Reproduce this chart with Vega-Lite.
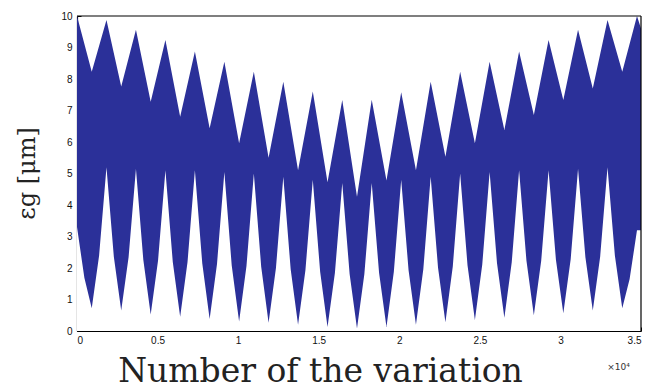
{
  "$schema": "https://vega.github.io/schema/vega-lite/v6.json",
  "width": 564,
  "height": 315,
  "autosize": {"type": "none"},
  "padding": {"left": 77, "top": 16, "right": 13, "bottom": 58},
  "background": "white",
  "config": {
    "view": {"stroke": null},
    "axis": {
      "domainColor": "black",
      "domainWidth": 1.2,
      "tickColor": "black",
      "labelFont": "Liberation Sans",
      "labelFontSize": 10,
      "labelColor": "#111111",
      "grid": false,
      "zindex": 1
    }
  },
  "datasets": {
    "upper": [
      {"n": 0, "eps": 10}, {"n": 915, "eps": 8.23}, {"n": 1829, "eps": 9.87}, {"n": 2744, "eps": 7.76},
      {"n": 3658, "eps": 9.56}, {"n": 4573, "eps": 7.28}, {"n": 5487, "eps": 9.24}, {"n": 6402, "eps": 6.8},
      {"n": 7316, "eps": 8.87}, {"n": 8231, "eps": 6.44}, {"n": 9145, "eps": 8.55}, {"n": 10060, "eps": 5.96},
      {"n": 10974, "eps": 8.23}, {"n": 11889, "eps": 5.5}, {"n": 12803, "eps": 7.91}, {"n": 13718, "eps": 5.1},
      {"n": 14632, "eps": 7.6}, {"n": 15547, "eps": 4.72}, {"n": 16461, "eps": 7.33}, {"n": 17376, "eps": 4.26},
      {"n": 18290, "eps": 7.34}, {"n": 19205, "eps": 4.78}, {"n": 20119, "eps": 7.58}, {"n": 21034, "eps": 5.1},
      {"n": 21948, "eps": 7.91}, {"n": 22863, "eps": 5.53}, {"n": 23777, "eps": 8.23}, {"n": 24692, "eps": 5.96},
      {"n": 25606, "eps": 8.55}, {"n": 26521, "eps": 6.38}, {"n": 27435, "eps": 8.87}, {"n": 28350, "eps": 6.86},
      {"n": 29264, "eps": 9.24}, {"n": 30179, "eps": 7.33}, {"n": 31093, "eps": 9.56}, {"n": 32008, "eps": 7.7},
      {"n": 32922, "eps": 9.87}, {"n": 33837, "eps": 8.23}, {"n": 34751, "eps": 10}, {"n": 35000, "eps": 9.6}
    ],
    "lower": [
      {"n": 0, "eps": 3.3},
      {"n": 457, "eps": 1.69}, {"n": 915, "eps": 0.72}, {"n": 1372, "eps": 2.4}, {"n": 1829, "eps": 5.2},
      {"n": 2286, "eps": 2.36}, {"n": 2744, "eps": 0.65}, {"n": 3201, "eps": 2.34}, {"n": 3658, "eps": 5.15},
      {"n": 4115, "eps": 2.26}, {"n": 4573, "eps": 0.52}, {"n": 5030, "eps": 2.24}, {"n": 5487, "eps": 5.1},
      {"n": 5944, "eps": 2.19}, {"n": 6402, "eps": 0.45}, {"n": 6859, "eps": 2.19}, {"n": 7316, "eps": 5.1},
      {"n": 7773, "eps": 2.15}, {"n": 8231, "eps": 0.38}, {"n": 8688, "eps": 2.13}, {"n": 9145, "eps": 5.05},
      {"n": 9602, "eps": 2.08}, {"n": 10060, "eps": 0.3}, {"n": 10517, "eps": 2.06}, {"n": 10974, "eps": 5.0},
      {"n": 11431, "eps": 2.04}, {"n": 11889, "eps": 0.26}, {"n": 12346, "eps": 2.0}, {"n": 12803, "eps": 4.9},
      {"n": 13260, "eps": 1.96}, {"n": 13718, "eps": 0.2}, {"n": 14175, "eps": 1.93}, {"n": 14632, "eps": 4.8},
      {"n": 15089, "eps": 1.88}, {"n": 15547, "eps": 0.13}, {"n": 16004, "eps": 1.84}, {"n": 16461, "eps": 4.7},
      {"n": 16918, "eps": 1.81}, {"n": 17376, "eps": 0.08}, {"n": 17833, "eps": 1.81}, {"n": 18290, "eps": 4.7},
      {"n": 18747, "eps": 1.84}, {"n": 19205, "eps": 0.13}, {"n": 19662, "eps": 1.88}, {"n": 20119, "eps": 4.8},
      {"n": 20576, "eps": 1.93}, {"n": 21034, "eps": 0.2}, {"n": 21491, "eps": 1.96}, {"n": 21948, "eps": 4.9},
      {"n": 22405, "eps": 2.01}, {"n": 22863, "eps": 0.28}, {"n": 23320, "eps": 2.05}, {"n": 23777, "eps": 5.0},
      {"n": 24234, "eps": 2.09}, {"n": 24692, "eps": 0.35}, {"n": 25149, "eps": 2.11}, {"n": 25606, "eps": 5.05},
      {"n": 26063, "eps": 2.16}, {"n": 26521, "eps": 0.42}, {"n": 26978, "eps": 2.18}, {"n": 27435, "eps": 5.1},
      {"n": 27892, "eps": 2.23}, {"n": 28350, "eps": 0.5}, {"n": 28807, "eps": 2.23}, {"n": 29264, "eps": 5.1},
      {"n": 29721, "eps": 2.26}, {"n": 30179, "eps": 0.56}, {"n": 30636, "eps": 2.28}, {"n": 31093, "eps": 5.15},
      {"n": 31550, "eps": 2.34}, {"n": 32008, "eps": 0.65}, {"n": 32465, "eps": 2.36}, {"n": 32922, "eps": 5.2},
      {"n": 33379, "eps": 2.4}, {"n": 33837, "eps": 0.72}, {"n": 34294, "eps": 1.65}, {"n": 34751, "eps": 3.2},
      {"n": 35000, "eps": 3.2}
    ]
  },
  "layer": [
    {
      "data": {"name": "upper"},
      "mark": {"type": "area", "color": "#2b3099", "interpolate": "linear"},
      "encoding": {
        "x": {
          "field": "n", "type": "quantitative",
          "scale": {"domain": [0, 35000], "nice": false, "zero": false},
          "axis": {
            "orient": "bottom",
            "values": [0, 5000, 10000, 15000, 20000, 25000, 30000, 35000],
            "labelExpr": "datum.value / 10000",
            "tickSize": -4,
            "labelPadding": 8,
            "title": "Number of the variation",
            "titleFont": "DejaVu Serif",
            "titleFontSize": 33,
            "titleFontWeight": "normal",
            "titleColor": "#222222",
            "titleX": 243,
            "titleY": 50,
            "titleAlign": "center",
            "titleBaseline": "alphabetic"
          }
        },
        "y": {
          "field": "eps", "type": "quantitative",
          "scale": {"domain": [0, 10], "nice": false, "zero": false},
          "axis": {
            "orient": "left",
            "values": [0, 1, 2, 3, 4, 5, 6, 7, 8, 9, 10],
            "tickSize": -4,
            "labelPadding": 9,
            "title": "εg [μm]",
            "titleFont": "DejaVu Serif",
            "titleFontSize": 24,
            "titleFontWeight": "normal",
            "titleColor": "#222222",
            "titleAngle": 270,
            "titleX": -50,
            "titleY": 157,
            "titleAlign": "center",
            "titleBaseline": "middle"
          }
        }
      }
    },
    {
      "data": {"name": "lower"},
      "mark": {"type": "area", "color": "white", "interpolate": "linear"},
      "encoding": {
        "x": {
          "field": "n", "type": "quantitative",
          "scale": {"domain": [0, 35000], "nice": false, "zero": false},
          "axis": {
            "orient": "bottom",
            "values": [0, 5000, 10000, 15000, 20000, 25000, 30000, 35000],
            "labelExpr": "datum.value / 10000",
            "tickSize": -4,
            "labelPadding": 8,
            "title": "Number of the variation",
            "titleFont": "DejaVu Serif",
            "titleFontSize": 33,
            "titleFontWeight": "normal",
            "titleColor": "#222222",
            "titleX": 243,
            "titleY": 50,
            "titleAlign": "center",
            "titleBaseline": "alphabetic"
          }
        },
        "y": {
          "field": "eps", "type": "quantitative",
          "scale": {"domain": [0, 10], "nice": false, "zero": false},
          "axis": {
            "orient": "left",
            "values": [0, 1, 2, 3, 4, 5, 6, 7, 8, 9, 10],
            "tickSize": -4,
            "labelPadding": 9,
            "title": "εg [μm]",
            "titleFont": "DejaVu Serif",
            "titleFontSize": 24,
            "titleFontWeight": "normal",
            "titleColor": "#222222",
            "titleAngle": 270,
            "titleX": -50,
            "titleY": 157,
            "titleAlign": "center",
            "titleBaseline": "middle"
          }
        }
      }
    },
    {
      "data": {"values": [{"edge": "top"}]},
      "mark": {"type": "rule", "color": "black", "strokeWidth": 1.2},
      "encoding": {
        "y": {
          "datum": 10, "type": "quantitative",
          "scale": {"domain": [0, 10], "nice": false, "zero": false},
          "axis": {
            "orient": "left",
            "values": [0, 1, 2, 3, 4, 5, 6, 7, 8, 9, 10],
            "tickSize": -4,
            "labelPadding": 9,
            "title": "εg [μm]",
            "titleFont": "DejaVu Serif",
            "titleFontSize": 24,
            "titleFontWeight": "normal",
            "titleColor": "#222222",
            "titleAngle": 270,
            "titleX": -50,
            "titleY": 157,
            "titleAlign": "center",
            "titleBaseline": "middle"
          }
        }
      }
    },
    {
      "data": {"values": [{"edge": "right"}]},
      "mark": {"type": "rule", "color": "black", "strokeWidth": 1.2},
      "encoding": {
        "x": {
          "datum": 35000, "type": "quantitative",
          "scale": {"domain": [0, 35000], "nice": false, "zero": false},
          "axis": {
            "orient": "bottom",
            "values": [0, 5000, 10000, 15000, 20000, 25000, 30000, 35000],
            "labelExpr": "datum.value / 10000",
            "tickSize": -4,
            "labelPadding": 8,
            "title": "Number of the variation",
            "titleFont": "DejaVu Serif",
            "titleFontSize": 33,
            "titleFontWeight": "normal",
            "titleColor": "#222222",
            "titleX": 243,
            "titleY": 50,
            "titleAlign": "center",
            "titleBaseline": "alphabetic"
          }
        }
      }
    },
    {
      "data": {"values": [{"t": "×10⁴", "n": 33600, "eps": -1.15}]},
      "mark": {"type": "text", "font": "DejaVu Sans", "fontSize": 9, "color": "#333333", "align": "center", "baseline": "middle"},
      "encoding": {
        "x": {
          "field": "n", "type": "quantitative",
          "scale": {"domain": [0, 35000], "nice": false, "zero": false},
          "axis": {
            "orient": "bottom",
            "values": [0, 5000, 10000, 15000, 20000, 25000, 30000, 35000],
            "labelExpr": "datum.value / 10000",
            "tickSize": -4,
            "labelPadding": 8,
            "title": "Number of the variation",
            "titleFont": "DejaVu Serif",
            "titleFontSize": 33,
            "titleFontWeight": "normal",
            "titleColor": "#222222",
            "titleX": 243,
            "titleY": 50,
            "titleAlign": "center",
            "titleBaseline": "alphabetic"
          }
        },
        "y": {
          "field": "eps", "type": "quantitative",
          "scale": {"domain": [0, 10], "nice": false, "zero": false},
          "axis": {
            "orient": "left",
            "values": [0, 1, 2, 3, 4, 5, 6, 7, 8, 9, 10],
            "tickSize": -4,
            "labelPadding": 9,
            "title": "εg [μm]",
            "titleFont": "DejaVu Serif",
            "titleFontSize": 24,
            "titleFontWeight": "normal",
            "titleColor": "#222222",
            "titleAngle": 270,
            "titleX": -50,
            "titleY": 157,
            "titleAlign": "center",
            "titleBaseline": "middle"
          }
        },
        "text": {"field": "t"}
      }
    }
  ]
}
